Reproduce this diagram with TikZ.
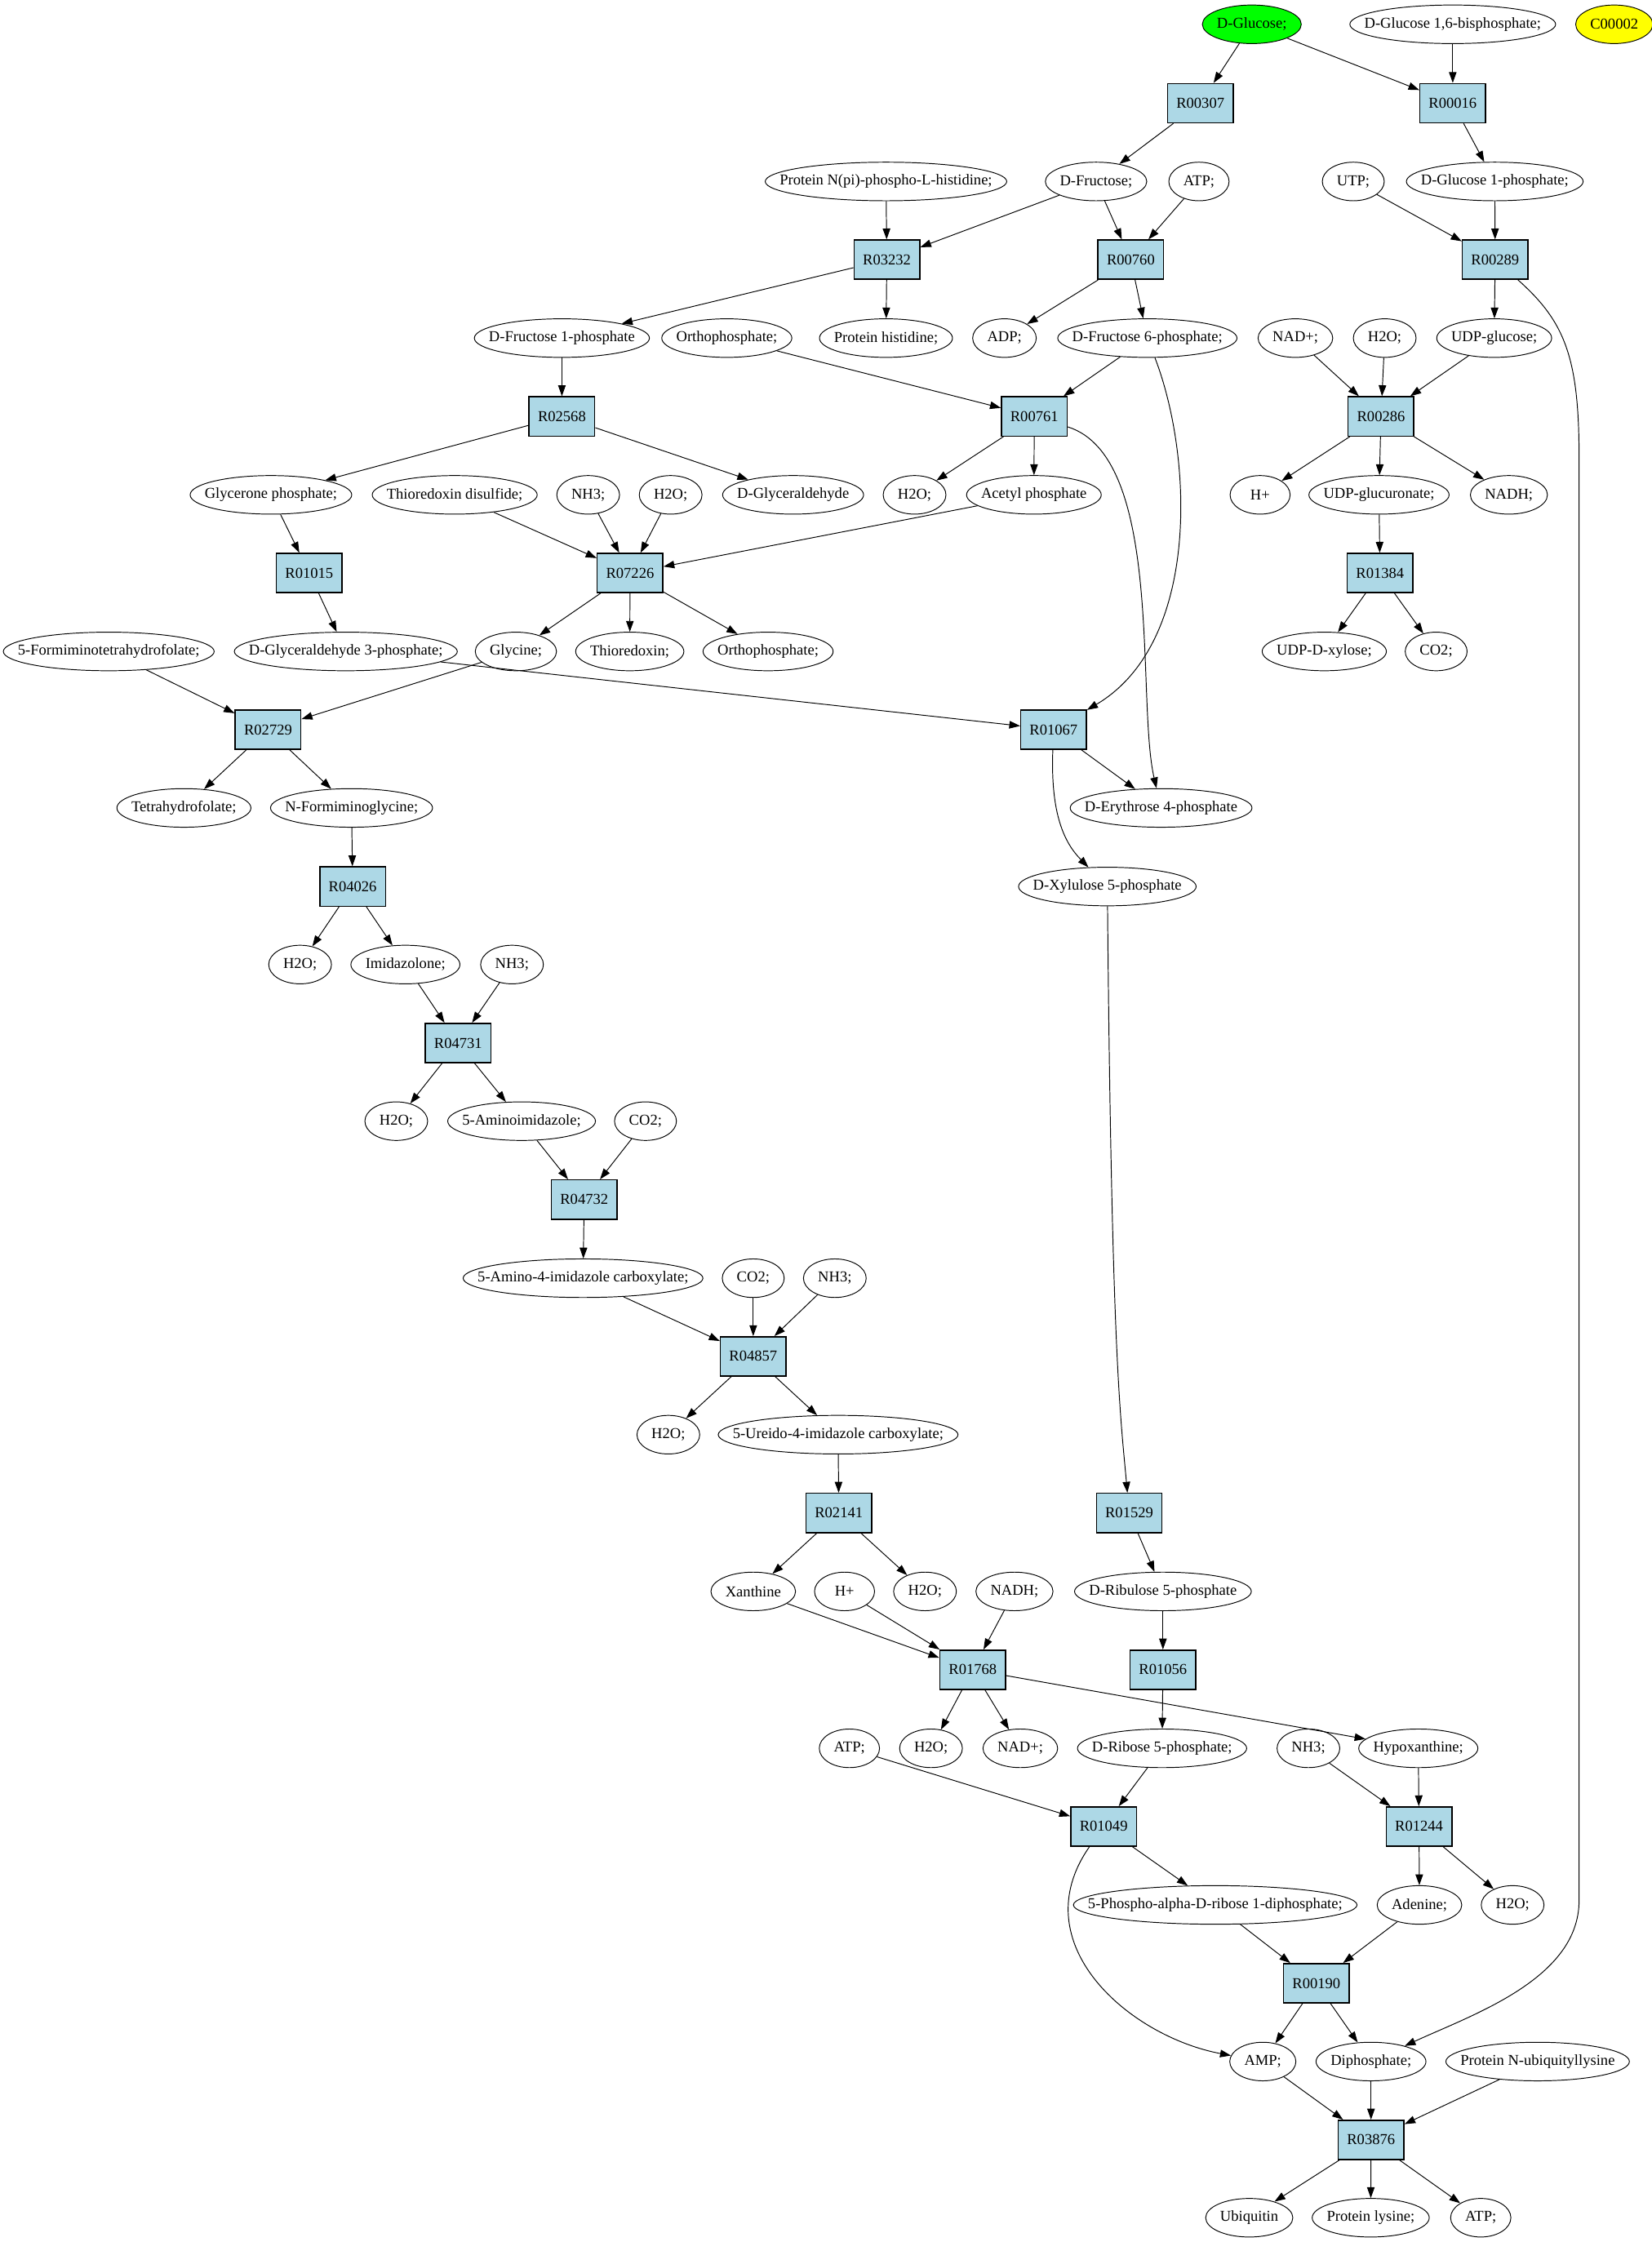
\documentclass[tikz,border=0pt]{standalone}
\usepackage{fontspec}
\setmainfont{Liberation Serif}
\usetikzlibrary{arrows.meta,shapes.geometric}
\definecolor{rxnblue}{HTML}{ADD8E6}
\definecolor{startgreen}{HTML}{00FF00}
\definecolor{lonelyyellow}{HTML}{FFFF00}
\begin{document}
\begin{tikzpicture}
        [x=1pt, y=-1pt,
        line width=0.55pt,
        >={Triangle[length=7.6pt,width=5.3pt]},
        every node/.style={font=\fontsize{10.6}{12}\selectfont},
        met/.style={ellipse, draw, minimum width=42pt, minimum height=27pt,
          inner xsep=7.2pt, inner ysep=1pt,
          execute at begin node={\setbox0=\hbox\bgroup},
          execute at end node={\egroup\hbox to 0.7071\wd0{\hss\box0\hss}}},
        rxn/.style={rectangle, draw, fill=rxnblue, line width=0.85pt, minimum width=41pt,
          minimum height=27.5pt, inner xsep=6.2pt},
        ]
        \useasboundingbox (0,0) rectangle (1156,1569);
        % compounds and reactions, top to bottom
        \node[met, fill=startgreen] (glc) at (876,17) {D-Glucose;};
        \node[met] (g16bp) at (1016.6,17) {D-Glucose 1,6-bisphosphate;};
        \node[met, fill=lonelyyellow] (c00002) at (1129.6,17) {C00002};
        \node[rxn] (r00307) at (840,72.2) {R00307};
        \node[rxn] (r00016) at (1016.6,72.2) {R00016};
        \node[met] (phis) at (620,127) {Protein N(pi)-phospho-L-histidine;};
        \node[met] (fru) at (767,127) {D-Fructose;};
        \node[met] (atpa) at (839,127) {ATP;};
        \node[met] (utp) at (947,127) {UTP;};
        \node[met] (g1p) at (1046,127) {D-Glucose 1-phosphate;};
        \node[rxn] (r03232) at (620.6,181.7) {R03232};
        \node[rxn] (r00760) at (791.3,181.7) {R00760};
        \node[rxn] (r00289) at (1046.3,181.7) {R00289};
        \node[met] (f1p) at (393.2,236.6) {D-Fructose 1-phosphate};
        \node[met] (pia) at (508.6,236.6) {Orthophosphate;};
        \node[met] (his) at (620,236.6) {Protein histidine;};
        \node[met] (adp) at (702.9,236.6) {ADP;};
        \node[met] (f6p) at (802.9,236.6) {D-Fructose 6-phosphate;};
        \node[met] (nada) at (906.5,236.6) {NAD+;};
        \node[met] (h2oa) at (969,236.6) {H2O;};
        \node[met] (udpg) at (1045.6,236.6) {UDP-glucose;};
        \node[rxn] (r02568) at (393.2,291.4) {R02568};
        \node[rxn] (r00761) at (723.8,291.4) {R00761};
        \node[rxn] (r00286) at (966.4,291.4) {R00286};
        \node[met] (dhap) at (189.6,346.3) {Glycerone phosphate;};
        \node[met] (trxss) at (318.2,346.3) {Thioredoxin disulfide;};
        \node[met] (nh3a) at (411.6,346.3) {NH3;};
        \node[met] (h2ob) at (469.3,346.3) {H2O;};
        \node[met] (gald) at (555,346.3) {D-Glyceraldehyde};
        \node[met] (h2oc) at (640,346.3) {H2O;};
        \node[met] (acp) at (723.5,346.3) {Acetyl phosphate};
        \node[met] (hpa) at (881.8,346.3) {H+};
        \node[met] (udpgla) at (965,346.3) {UDP-glucuronate;};
        \node[met] (nadha) at (1055.9,346.3) {NADH;};
        \node[rxn] (r01015) at (216.4,401) {R01015};
        \node[rxn] (r07226) at (440.9,401) {R07226};
        \node[rxn] (r01384) at (965.7,401) {R01384};
        \node[met] (fthf) at (76.1,455.9) {5-Formiminotetrahydrofolate;};
        \node[met] (g3p) at (242,455.9) {D-Glyceraldehyde 3-phosphate;};
        \node[met] (gly) at (361,455.9) {Glycine;};
        \node[met] (trx) at (440.7,455.9) {Thioredoxin;};
        \node[met] (pib) at (537.5,455.9) {Orthophosphate;};
        \node[met] (udpx) at (926.7,455.9) {UDP-D-xylose;};
        \node[met] (co2a) at (1005,455.9) {CO2;};
        \node[rxn] (r02729) at (187.6,510.6) {R02729};
        \node[rxn] (r01067) at (737.3,510.6) {R01067};
        \node[met] (thf) at (128.7,565.4) {Tetrahydrofolate;};
        \node[met] (fig) at (246,565.4) {N-Formiminoglycine;};
        \node[met] (e4p) at (812.5,565.4) {D-Erythrose 4-phosphate};
        \node[rxn] (r04026) at (246.8,620.4) {R04026};
        \node[met] (x5p) at (774.9,620.4) {D-Xylulose 5-phosphate};
        \node[met] (h2od) at (210,675) {H2O;};
        \node[met] (imz) at (283.7,675) {Imidazolone;};
        \node[met] (nh3b) at (358.3,675) {NH3;};
        \node[rxn] (r04731) at (320.6,729.9) {R04731};
        \node[met] (h2oe) at (277.3,784.6) {H2O;};
        \node[met] (air) at (365,784.6) {5-Aminoimidazole;};
        \node[met] (co2b) at (451.7,784.6) {CO2;};
        \node[rxn] (r04732) at (408.8,839.5) {R04732};
        \node[met] (aica) at (408,894.5) {5-Amino-4-imidazole carboxylate;};
        \node[met] (co2c) at (527.1,894.5) {CO2;};
        \node[met] (nh3c) at (584.2,894.5) {NH3;};
        \node[rxn] (r04857) at (527.1,949.2) {R04857};
        \node[met] (h2of) at (467.7,1004) {H2O;};
        \node[met] (uica) at (586.5,1004) {5-Ureido-4-imidazole carboxylate;};
        \node[rxn] (r02141) at (587,1058.8) {R02141};
        \node[rxn] (r01529) at (790.2,1058.8) {R01529};
        \node[met] (xan) at (527.1,1113.7) {Xanthine};
        \node[met] (hpb) at (591,1113.7) {H+};
        \node[met] (h2og) at (647.3,1113.7) {H2O;};
        \node[met] (nadhb) at (709.9,1113.7) {NADH;};
        \node[met] (ru5p) at (813.8,1113.7) {D-Ribulose 5-phosphate};
        \node[rxn] (r01768) at (680.7,1168.5) {R01768};
        \node[rxn] (r01056) at (813.8,1168.5) {R01056};
        \node[met] (atpb) at (594.4,1223.5) {ATP;};
        \node[met] (h2oh) at (651.5,1223.5) {H2O;};
        \node[met] (nadb) at (714,1223.5) {NAD+;};
        \node[met] (r5p) at (813.2,1223.5) {D-Ribose 5-phosphate;};
        \node[met] (nh3d) at (915.6,1223.5) {NH3;};
        \node[met] (hxan) at (992.5,1223.5) {Hypoxanthine;};
        \node[rxn] (r01049) at (772.3,1278.2) {R01049};
        \node[rxn] (r01244) at (993,1278.2) {R01244};
        \node[met] (prpp) at (850.4,1333.1) {5-Phospho-alpha-D-ribose 1-diphosphate;};
        \node[met] (ade) at (993.3,1333.1) {Adenine;};
        \node[met] (h2oi) at (1058.5,1333.1) {H2O;};
        \node[rxn] (r00190) at (921.2,1387.9) {R00190};
        \node[met] (amp) at (883.7,1442.7) {AMP;};
        \node[met] (ppi) at (959.4,1442.7) {Diphosphate;};
        \node[met] (ubk) at (1076,1442.7) {Protein N-ubiquityllysine};
        \node[rxn] (r03876) at (959.4,1497.5) {R03876};
        \node[met] (ub) at (874.2,1552) {Ubiquitin};
        \node[met] (lys) at (959.2,1552) {Protein lysine;};
        \node[met] (atpc) at (1036.2,1552) {ATP;};
        % straight edges
        \foreach \a/\b in {glc/r00307, glc/r00016, g16bp/r00016, r00307/fru, r00016/g1p,
          phis/r03232, fru/r03232, fru/r00760, atpa/r00760, utp/r00289, g1p/r00289,
          r03232/f1p, r03232/his, r00760/adp, r00760/f6p, r00289/udpg,
          f1p/r02568, pia/r00761, f6p/r00761, nada/r00286, h2oa/r00286, udpg/r00286,
          r02568/dhap, r02568/gald, r00761/h2oc, r00761/acp,
          r00286/hpa, r00286/udpgla, r00286/nadha,
          dhap/r01015, trxss/r07226, nh3a/r07226, h2ob/r07226, acp/r07226, udpgla/r01384,
          r01015/g3p, r07226/gly, r07226/trx, r07226/pib, r01384/udpx, r01384/co2a,
          fthf/r02729, gly/r02729, g3p/r01067, r02729/thf, r02729/fig, r01067/e4p,
          fig/r04026, r04026/h2od, r04026/imz, imz/r04731, nh3b/r04731,
          r04731/h2oe, r04731/air, air/r04732, co2b/r04732, r04732/aica,
          aica/r04857, co2c/r04857, nh3c/r04857, r04857/h2of, r04857/uica, uica/r02141,
          r02141/xan, r02141/h2og, r01529/ru5p, xan/r01768, hpb/r01768, nadhb/r01768,
          ru5p/r01056, r01768/h2oh, r01768/nadb, r01768/hxan, r01056/r5p,
          atpb/r01049, r5p/r01049, nh3d/r01244, hxan/r01244,
          r01049/prpp, r01244/ade, r01244/h2oi, prpp/r00190, ade/r00190,
          r00190/amp, r00190/ppi, amp/r03876, ppi/r03876, ubk/r03876,
          r03876/ub, r03876/lys, r03876/atpc}
          \draw[->] (\a) -- (\b);
        % curved edges
        \draw[->] (f6p) .. controls (835,320) and (840,450) .. (r01067);
        \draw[->] (r00761) .. controls (815,320) and (795,490) .. (e4p);
        \draw[->] (r01067) .. controls (735,570) and (745,590) .. (x5p);
        \draw[->] (x5p) .. controls (778,950) and (784,990) .. (r01529);
        \draw[->] (r00289) .. controls (1095,225) and (1105,250) .. (1105,320)
          -- (1105,1330) .. controls (1105,1385) and (1030,1410) .. (ppi);
        \draw[->] (r01049) .. controls (715,1360) and (790,1425) .. (amp);
\end{tikzpicture}
\end{document}
